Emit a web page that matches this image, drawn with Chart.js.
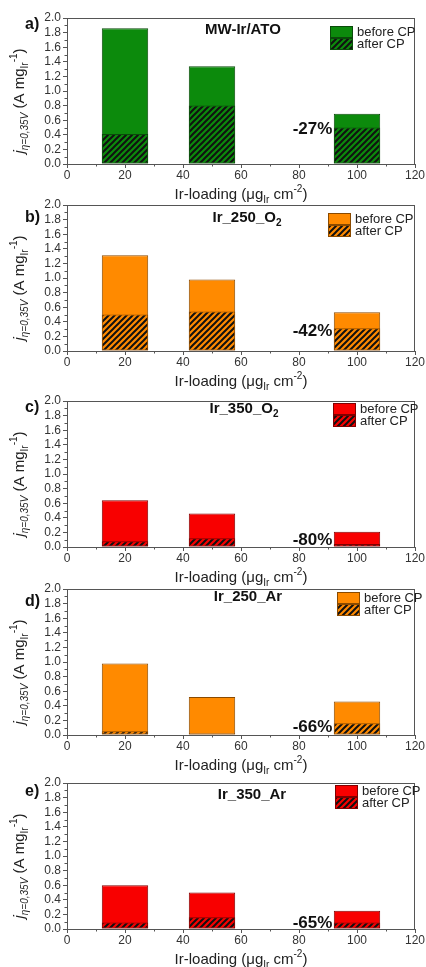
<!DOCTYPE html>
<html>
<head>
<meta charset="utf-8">
<script src="https://cdn.jsdelivr.net/npm/chart.js@4.4.1/dist/chart.umd.min.js"></script>
<style>
  html, body { margin: 0; padding: 0; background: #fff; overflow: hidden; }
  #wrap { position: relative; width: 426px; height: 967px; }
  .panel { position: absolute; left: 0; width: 426px; height: 203px; }
</style>
</head>
<body>
<div id="wrap">
  <div class="panel" style="top:3px"><canvas id="chartA" width="426" height="203"></canvas></div>
  <div class="panel" style="top:190px"><canvas id="chartB" width="426" height="203"></canvas></div>
  <div class="panel" style="top:386px"><canvas id="chartC" width="426" height="203"></canvas></div>
  <div class="panel" style="top:574px"><canvas id="chartD" width="426" height="203"></canvas></div>
  <div class="panel" style="top:768px"><canvas id="chartE" width="426" height="203"></canvas></div>
</div>
<script>
// Ir-loading (x) for the three bars
const loading = [20, 50, 100];

// activity before / after CP, one pair per catalyst
const beforeA = [1.86, 1.34, 0.69];
const afterA = [0.41, 0.80, 0.50];
const beforeB = [1.31, 0.98, 0.53];
const afterB = [0.50, 0.54, 0.31];
const beforeC = [0.64, 0.46, 0.21];
const afterC = [0.08, 0.12, 0.04];
const beforeD = [0.98, 0.52, 0.46];
const afterD = [0.05, 0.02, 0.16];
const beforeE = [0.60, 0.50, 0.25];
const afterE = [0.09, 0.16, 0.09];

const letters = ["a)", "b)", "c)", "d)", "e)"];
const titles = ["MW-Ir/ATO", "Ir_250_O", "Ir_350_O", "Ir_250_Ar", "Ir_350_Ar"];
const titleSubs = ["", "2", "2", "", ""];
const drops = ["-27%", "-42%", "-80%", "-66%", "-65%"];
const legendLabels = ["before CP", "after CP"];

const FONT = '"Liberation Sans", Arial, sans-serif';
const AXIS = "#555";

const GREEN = { fill: "#0c8a0c", edge: "#0a4a0a" };
const ORANGE = { fill: "#ff8a00", edge: "#8a4a00" };
const RED = { fill: "#f80000", edge: "#800000" };

const makeHatch = (color) => {
  const s = 6;
  const c = document.createElement("canvas");
  c.width = s;
  c.height = s;
  const g = c.getContext("2d");
  g.fillStyle = color;
  g.fillRect(0, 0, s, s);
  g.strokeStyle = "#111";
  g.lineWidth = 2;
  g.beginPath();
  g.moveTo(-1, s + 1); g.lineTo(s + 1, -1);
  g.moveTo(-1, 1); g.lineTo(1, -1);
  g.moveTo(s - 1, s + 1); g.lineTo(s + 1, s - 1);
  g.stroke();
  return g.createPattern(c, "repeat");
};

// draws a run of text pieces (for sub/superscripts)
const drawRich = (ctx, parts, x, y, align) => {
  let total = 0;
  parts.forEach((p) => {
    ctx.font = p.font;
    p.w = ctx.measureText(p.t).width;
    total += p.w;
  });
  let cx = align === "center" ? x - total / 2 : align === "right" ? x - total : x;
  ctx.textAlign = "left";
  ctx.textBaseline = "middle";
  parts.forEach((p) => {
    ctx.font = p.font;
    ctx.fillText(p.t, cx, y + (p.dy || 0));
    cx += p.w;
  });
};

const decor = (panel) => ({
  id: "decor",
  afterDraw(chart) {
    const { ctx, chartArea: a } = chart;
    const x = chart.scales.x;
    const y = chart.scales.y;
    ctx.save();

    // frame + minor ticks
    ctx.strokeStyle = AXIS;
    ctx.lineWidth = 1;
    ctx.strokeRect(a.left + 0.5, a.top + 0.5, a.width - 1, a.height);
    ctx.beginPath();
    for (let v = 10; v < 120; v += 20) {
      const px = Math.round(x.getPixelForValue(v)) + 0.5;
      ctx.moveTo(px, a.bottom);
      ctx.lineTo(px, a.bottom + 2.5);
    }
    for (let v = 0.1; v < 2; v += 0.2) {
      const py = Math.round(y.getPixelForValue(v)) + 0.5;
      ctx.moveTo(a.left, py);
      ctx.lineTo(a.left - 2.5, py);
    }
    ctx.stroke();

    ctx.fillStyle = "#222";
    // x axis title
    drawRich(ctx, [
      { t: "Ir-loading (\u03bcg", font: "15px " + FONT },
      { t: "Ir", font: "10px " + FONT, dy: 5 },
      { t: " cm", font: "15px " + FONT },
      { t: "-2", font: "10px " + FONT, dy: -6 },
      { t: ")", font: "15px " + FONT },
    ], (a.left + a.right) / 2, a.bottom + 31, "center");

    // y axis title
    ctx.save();
    ctx.translate(20, (a.top + a.bottom) / 2 + 10);
    ctx.rotate(-Math.PI / 2);
    drawRich(ctx, [
      { t: "j", font: "italic 15px " + FONT },
      { t: "\u03b7=0,35V", font: "italic 10px " + FONT, dy: 5 },
      { t: " (A mg", font: "15px " + FONT },
      { t: "Ir", font: "10px " + FONT, dy: 5 },
      { t: "-1", font: "10px " + FONT, dy: -6 },
      { t: ")", font: "15px " + FONT },
    ], 0, 0, "center");
    ctx.restore();

    // panel letter
    ctx.fillStyle = "#111";
    drawRich(ctx, [{ t: panel.letter, font: "bold 16px " + FONT }], 25, a.top + panel.letterDy, "left");

    // sample name
    const parts = [{ t: panel.title, font: "bold 15px " + FONT }];
    if (panel.titleSub) parts.push({ t: panel.titleSub, font: "bold 10px " + FONT, dy: 5 });
    drawRich(ctx, parts, panel.titleX, a.top + panel.titleDy, "center");

    // loss label next to the last bar
    drawRich(ctx, [{ t: panel.drop, font: "bold 17px " + FONT }],
      x.getPixelForValue(91.5), y.getPixelForValue(panel.dropAt), "right");

    // legend
    const lx = panel.legX;
    const ly = a.top + panel.legDy;
    const fills = [panel.colors.fill, panel.hatch];
    fills.forEach((f, i) => {
      ctx.fillStyle = f;
      ctx.fillRect(lx, ly + i * 12, 23, 12);
      ctx.strokeStyle = panel.colors.edge;
      ctx.strokeRect(lx + 0.5, ly + i * 12 + 0.5, 22, 11);
      ctx.fillStyle = "#222";
      drawRich(ctx, [{ t: legendLabels[i], font: "13px " + FONT }], lx + 27, ly + i * 12 + 6, "left");
    });

    ctx.restore();
  },
});

const buildChart = (canvasId, panel) => {
  const context = document.getElementById(canvasId).getContext("2d");
  panel.hatch = makeHatch(panel.colors.fill);
  return new Chart(context, {
    type: "bar",
    data: {
      datasets: [
        {
          label: legendLabels[1],
          data: loading.map((v, i) => ({ x: v, y: panel.after[i] })),
          backgroundColor: panel.hatch,
          borderColor: panel.colors.edge,
          borderWidth: 1,
          borderSkipped: false,
          grouped: false,
          order: 0,
        },
        {
          label: legendLabels[0],
          data: loading.map((v, i) => ({ x: v, y: panel.before[i] })),
          backgroundColor: panel.colors.fill,
          borderColor: panel.colors.edge,
          borderWidth: 1,
          borderSkipped: false,
          grouped: false,
          order: 1,
        },
      ],
    },
    options: {
      responsive: false,
      animation: false,
      layout: { padding: { top: 15, right: 11, left: 0, bottom: 0 } },
      plugins: { legend: { display: false }, tooltip: { enabled: false } },
      datasets: { bar: { categoryPercentage: 1, barPercentage: 0.8 } },
      scales: {
        x: {
          type: "linear",
          min: 0,
          max: 120,
          offset: false,
          ticks: { stepSize: 20, autoSkip: false, maxRotation: 0, padding: 0, color: "#333", font: { family: FONT, size: 12 } },
          grid: { offset: false, drawOnChartArea: false, drawTicks: true, tickLength: 4, color: AXIS },
          border: { display: true, color: AXIS },
          afterFit: (s) => { s.height = 42; },
        },
        y: {
          min: 0,
          max: 2,
          ticks: {
            stepSize: 0.2,
            autoSkip: false,
            padding: 2,
            color: "#333",
            font: { family: FONT, size: 12 },
            callback: (v) => v.toFixed(1),
          },
          grid: { drawOnChartArea: false, drawTicks: true, tickLength: 4, color: AXIS },
          border: { display: true, color: AXIS },
          afterFit: (s) => { s.width = 67; },
        },
      },
    },
    plugins: [decor(panel)],
  });
};

const chartA = buildChart("chartA", {
  before: beforeA, after: afterA, colors: GREEN,
  letter: letters[0], title: titles[0], titleSub: titleSubs[0], drop: drops[0],
  letterDy: 7, titleX: 243, titleDy: 12, dropAt: 0.48, legX: 330, legDy: 8,
});
const chartB = buildChart("chartB", {
  before: beforeB, after: afterB, colors: ORANGE,
  letter: letters[1], title: titles[1], titleSub: titleSubs[1], drop: drops[1],
  letterDy: 13, titleX: 247, titleDy: 13, dropAt: 0.27, legX: 328, legDy: 8,
});
const chartC = buildChart("chartC", {
  before: beforeC, after: afterC, colors: RED,
  letter: letters[2], title: titles[2], titleSub: titleSubs[2], drop: drops[2],
  letterDy: 7, titleX: 244, titleDy: 8, dropAt: 0.09, legX: 333, legDy: 2,
});
const chartD = buildChart("chartD", {
  before: beforeD, after: afterD, colors: ORANGE,
  letter: letters[3], title: titles[3], titleSub: titleSubs[3], drop: drops[3],
  letterDy: 13, titleX: 248, titleDy: 8, dropAt: 0.11, legX: 337, legDy: 3,
});
const chartE = buildChart("chartE", {
  before: beforeE, after: afterE, colors: RED,
  letter: letters[4], title: titles[4], titleSub: titleSubs[4], drop: drops[4],
  letterDy: 9, titleX: 252, titleDy: 12, dropAt: 0.08, legX: 335, legDy: 2,
});
</script>
</body>
</html>
